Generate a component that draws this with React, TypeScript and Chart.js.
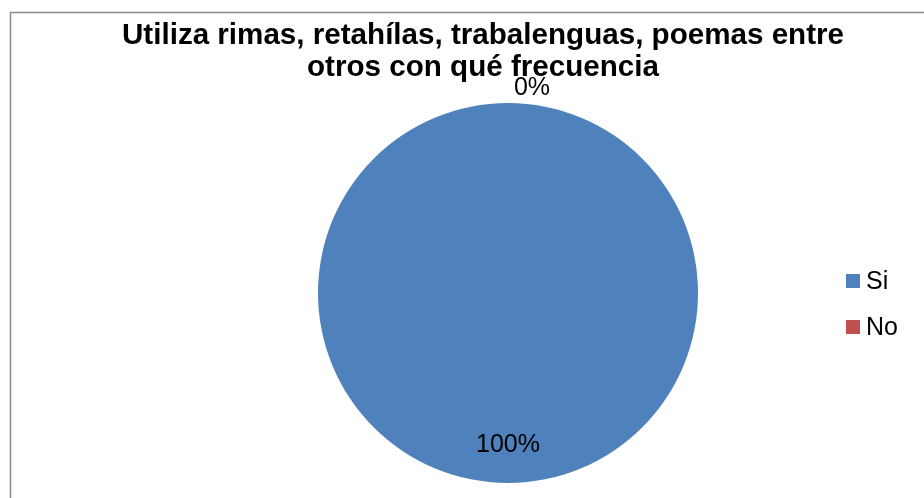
import React, { useEffect, useRef } from "react";
import { Chart, registerables } from "chart.js";

Chart.register(...registerables);

const titleLines = ["Utiliza rimas, retahílas, trabalenguas, poemas entre", "otros con qué frecuencia"];
const categories = ["Si", "No"];
const values = [100, 0];
const percentLabels = ["100%", "0%"];
const colors = ["#4F81BD", "#C0504D"];

const FONT = '"Liberation Sans", Arial, sans-serif';

const overlay = {
  id: "overlay",
  beforeDraw(chart: any) {
    const ctx = chart.ctx;
    ctx.save();
    ctx.fillStyle = "#ffffff";
    ctx.fillRect(0, 0, chart.width, chart.height);
    ctx.strokeStyle = "#8c8c8c";
    ctx.lineWidth = 1.5;
    ctx.strokeRect(10.5, 12.5, chart.width + 20, chart.height + 20);
    ctx.restore();
  },
  afterDraw(chart: any) {
    const ctx = chart.ctx;
    ctx.save();
    // title
    ctx.fillStyle = "#000";
    ctx.textAlign = "center";
    ctx.textBaseline = "alphabetic";
    ctx.font = `bold 29.6px ${FONT}`;
    titleLines.forEach((t, i) => ctx.fillText(t, 483, 44 + i * 32));

    // data labels
    const meta = chart.getDatasetMeta(0);
    ctx.font = `25px ${FONT}`;
    ctx.textBaseline = "middle";
    meta.data.forEach((arc: any, i: number) => {
      const { x, y, startAngle, endAngle, outerRadius } = arc.getProps(
        ["x", "y", "startAngle", "endAngle", "outerRadius"],
        true
      );
      const mid = (startAngle + endAngle) / 2;
      if (values[i] > 0) {
        const r = outerRadius * 0.8;
        ctx.fillText(percentLabels[i], x + Math.cos(mid) * r, y + Math.sin(mid) * r);
      } else {
        const r = outerRadius + 17;
        ctx.fillText(percentLabels[i], x + Math.cos(mid) * r + 24, y + Math.sin(mid) * r + 2);
      }
    });

    // legend
    ctx.textAlign = "left";
    categories.forEach((c, i) => {
      const y = 281 + i * 46;
      ctx.fillStyle = colors[i];
      ctx.fillRect(846, y - 7, 14, 14);
      ctx.fillStyle = "#000";
      ctx.fillText(c, 866, y + 1);
    });
    ctx.restore();
  },
};

export default function App() {
  const ref = useRef<HTMLCanvasElement>(null);
  useEffect(() => {
    document.body.style.margin = "0";
    const chart = new Chart(ref.current!, {
      type: "pie",
      data: {
        labels: categories,
        datasets: [
          {
            data: values,
            backgroundColor: colors,
            borderWidth: 0,
          },
        ],
      },
      options: {
        responsive: false,
        animation: false,
        layout: { padding: { top: 103, bottom: 15, left: 318, right: 226 } },
        plugins: {
          legend: { display: false },
          title: { display: false },
          tooltip: { enabled: false },
        },
      },
      plugins: [overlay],
    });
    return () => chart.destroy();
  }, []);
  return (
    <div style={{ position: "absolute", left: 0, top: 0, width: 924, height: 498 }}>
      <canvas ref={ref} width={924} height={498} />
    </div>
  );
}
